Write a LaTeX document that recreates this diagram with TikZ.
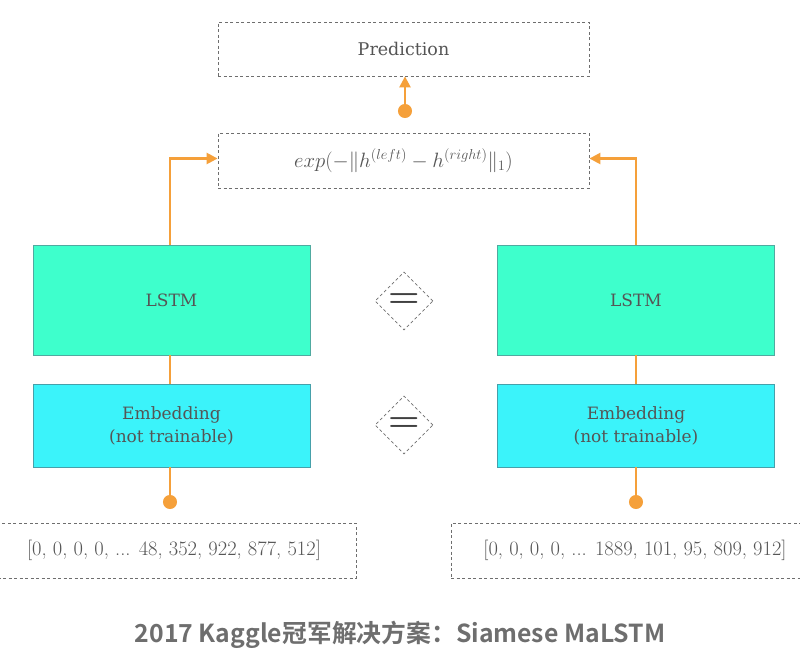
\documentclass[tikz,border=0pt]{standalone}
\usepackage{fontspec}
\usetikzlibrary{arrows.meta,shapes.geometric}
\newfontfamily\labfont{DejaVu Serif}
\newfontfamily\cjkbold{Noto Sans CJK SC Bold}
\definecolor{lstmfill}{RGB}{62,255,204}
\definecolor{lstmdraw}{RGB}{80,170,160}
\definecolor{embfill}{RGB}{59,243,250}
\definecolor{embdraw}{RGB}{70,160,170}
\definecolor{orng}{RGB}{245,160,58}
\definecolor{dashgray}{RGB}{110,110,110}
\definecolor{txtgray}{RGB}{85,85,85}
\definecolor{titlegray}{RGB}{110,110,110}
\tikzset{
  dbox/.style={draw=dashgray, dashed, dash pattern=on 3pt off 2.5pt, line width=0.8pt, inner sep=0pt, text=txtgray},
  lstmbox/.style={draw=lstmdraw, fill=lstmfill, line width=0.8pt, minimum width=277pt, minimum height=110pt, inner sep=0pt, text=txtgray, font=\labfont\fontsize{17}{20}\selectfont},
  embbox/.style={draw=embdraw, fill=embfill, line width=0.8pt, minimum width=277pt, minimum height=83pt, inner sep=0pt, text=txtgray, align=center, font=\labfont\fontsize{17}{23}\selectfont},
  eqdiam/.style={draw=dashgray, dashed, dash pattern=on 3pt off 2.5pt, line width=0.7pt, diamond, minimum width=58pt, minimum height=58pt, inner sep=0pt, text=black!75, font=\rmfamily\bfseries\fontsize{36}{36}\selectfont},
  conn/.style={draw=orng, line width=2.4pt},
  tri/.tip={Triangle[length=11pt,width=11pt]},
  dot/.tip={Circle[length=14pt,width=14pt]},
  arr/.style={conn, -tri},
  dotstart/.style={conn, dot-},
}
\begin{document}
\begin{tikzpicture}[x=1pt,y=-1pt]
\useasboundingbox (0,0) rectangle (800,656);
% top boxes
\node[dbox, minimum width=371pt, minimum height=54pt, font=\labfont\fontsize{17.5}{20}\selectfont] (pred) at (403.5,49) {Prediction};
\node[dbox, minimum width=371pt, minimum height=55pt, font=\fontsize{21}{24}\selectfont] (expb) at (403.5,160.5) {$exp(-\|h^{(left)}-h^{(right)}\|_1)$};
% LSTM and embedding
\node[lstmbox] (lstmL) at (171.5,300) {LSTM};
\node[lstmbox] (lstmR) at (636,300) {LSTM};
\node[embbox] (embL) at (171.5,425.5) {Embedding\\(not trainable)};
\node[embbox] (embR) at (636,425.5) {Embedding\\(not trainable)};
% diamonds
\node[eqdiam] (d1) at (404,301) {=};
\node[eqdiam] (d2) at (404,425) {=};
% inputs
\node[dbox, minimum width=364pt, minimum height=55pt, font=\fontsize{20.5}{24}\selectfont] (inL) at (174,550.5) {[0, 0, 0, 0, ... 48, 352, 922, 877, 512]};
\node[dbox, minimum width=368pt, minimum height=55pt, font=\fontsize{20.5}{24}\selectfont] (inR) at (635,550.5) {[0, 0, 0, 0, ... 1889, 101, 95, 809, 912]};
% connectors
\coordinate (dL) at (170,509);
\coordinate (dR) at (636,509);
\coordinate (dT) at (405,118);
\draw[dotstart] (dL) -- (dL |- embL.south);
\draw[dotstart] (dR) -- (dR |- embR.south);
\draw[conn] (embL.north -| dL) -- (lstmL.south -| dL);
\draw[conn] (embR.north -| dR) -- (lstmR.south -| dR);
\draw[arr] (lstmL.north -| dL) |- ([yshift=2pt]expb.west);
\draw[arr] (lstmR.north -| dR) |- ([yshift=2pt]expb.east);
\draw[conn, dot-tri] (dT) -- (dT |- pred.south);
% title
\node[text=titlegray, font=\cjkbold\fontsize{24.8}{28}\selectfont] (title) at (400,635) {2017 Kaggle冠军解决方案：Siamese MaLSTM};
\end{tikzpicture}
\end{document}
